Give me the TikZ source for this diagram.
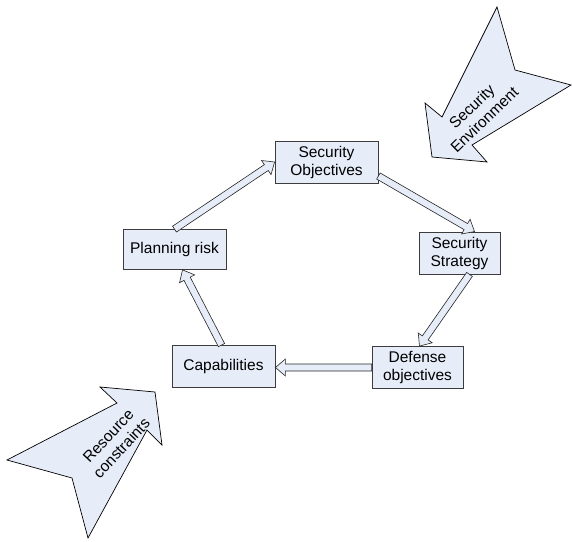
\documentclass[tikz,border=0pt]{standalone}
\usepackage{fontspec}
\setmainfont{Liberation Sans}
\usetikzlibrary{calc}

\definecolor{boxfill}{RGB}{230,236,248}
\definecolor{boxline}{RGB}{60,60,60}

\tikzset{
  stage/.style={draw=boxline, fill=boxfill, line width=0.8pt, align=center,
    inner sep=0pt, minimum height=42pt, font=\fontsize{15.5}{18}\selectfont},
  hollow/.style={draw=black!85, fill=boxfill, line width=0.6pt,
    to path={let \p1=(\tikztostart), \p2=(\tikztotarget),
      \n1={atan2(\y2-\y1,\x2-\x1)} in
      ($(\p1)+(\n1+90:3.5pt)$) -- ($(\p2)+(\n1:-10pt)+(\n1+90:3.5pt)$)
      -- ($(\p2)+(\n1:-10pt)+(\n1+90:8.5pt)$) -- (\p2)
      -- ($(\p2)+(\n1:-10pt)+(\n1-90:8.5pt)$)
      -- ($(\p2)+(\n1:-10pt)+(\n1-90:3.5pt)$)
      -- ($(\p1)+(\n1-90:3.5pt)$) -- cycle}},
  bigarrow/.style={draw=black, fill=boxfill, line width=0.7pt},
  bigtext/.style={align=center, font=\fontsize{15.5}{18}\selectfont}
}

\begin{document}
\begin{tikzpicture}[x=1pt, y=-1pt]
  \useasboundingbox (0,0) rectangle (572,541);

  % outside influences
  \draw[bigarrow] (497,7) -- (515,70) -- (571,85) -- (472,145) -- (487,162)
    -- (432,157) -- (425,103) -- (442,117) -- cycle;
  \draw[bigarrow] (155,392) -- (162,445) -- (147,430) -- (88,538) -- (72,478)
    -- (7,460) -- (117,403) -- (100,387) -- cycle;
  \node[bigtext, rotate=44] (env) at (478,113) {Security\\Environment};
  \node[bigtext, rotate=47] (res) at (115,442) {Resource\\constraints};

  % planning cycle
  \node[stage, minimum width=103pt] (obj) at (326.5,162) {Security\\Objectives};
  \node[stage, minimum width=81pt] (strat) at (459.5,253) {Security\\Strategy};
  \node[stage, minimum width=91pt] (def) at (417.5,367.5) {Defense\\objectives};
  \node[stage, minimum width=103pt] (cap) at (223.5,366.5) {Capabilities};
  \node[stage, minimum width=103pt, minimum height=40pt] (risk) at (174.5,249.5) {Planning risk};

  \draw[hollow] (risk.north) to (obj.west);
  \draw[hollow] ([yshift=-14pt]obj.east) to ([xshift=15pt]strat.north);
  \draw[hollow] ([xshift=10pt]strat.south) to ([xshift=2pt]def.north);
  \draw[hollow] (def.west) to (def.west -| cap.east);
  \draw[hollow] ([xshift=-2pt]cap.north) to ([xshift=8pt]risk.south);
\end{tikzpicture}
\end{document}
